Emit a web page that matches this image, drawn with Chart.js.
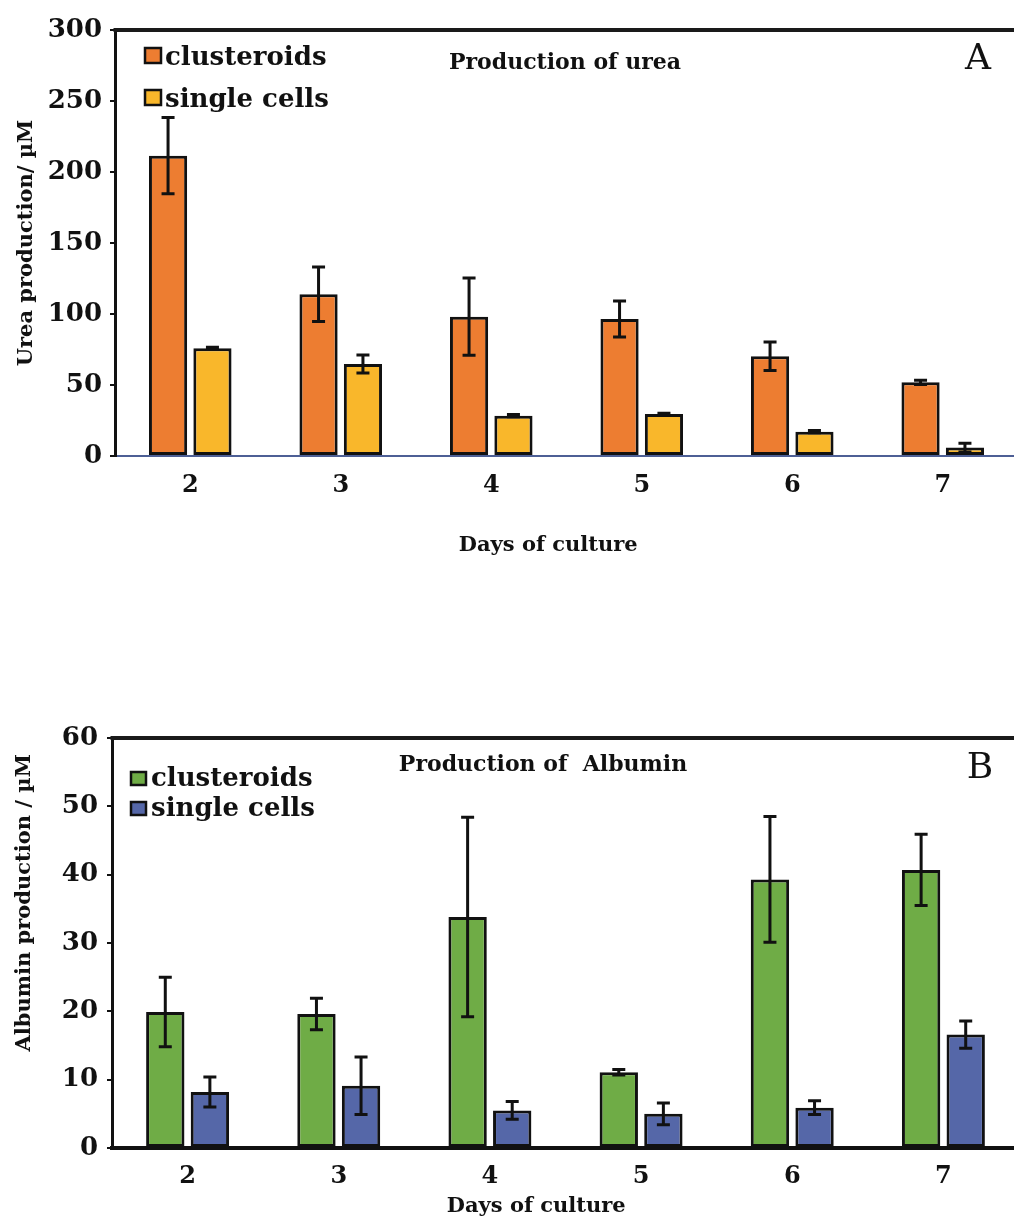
<!DOCTYPE html>
<html><head><meta charset="utf-8">
<script src="https://cdn.jsdelivr.net/npm/chart.js@4.4.1/dist/chart.umd.min.js"></script>
<style>
html,body{margin:0;padding:0;background:#fff;overflow:hidden;width:1014px;height:1221px;}
#wrap1{position:absolute;left:0;top:0;}
#wrap2{position:absolute;left:0;top:620px;}
</style></head><body>
<div id="wrap1"><canvas id="c1" width="1018" height="600"></canvas></div>
<div id="wrap2"><canvas id="c2" width="1019" height="601"></canvas></div>
<script>
// ---- data ----
const days = ['2', '3', '4', '5', '6', '7'];
const ureaClusteroids    = [211.5, 113.9, 98.1, 96.5, 70.2, 51.9];
const ureaClusteroidsErr = [26.8, 19.2, 27.2, 12.7, 10.0, 1.5];
const ureaSingle         = [75.8, 64.8, 28.4, 29.6, 17.1, 5.9];
const ureaSingleErr      = [0.8, 6.4, 0.8, 0.5, 0.8, 3.0];
const albClusteroids     = [19.9, 19.6, 33.8, 11.1, 39.3, 40.7];
const albClusteroidsErr  = [5.1, 2.3, 14.6, 0.4, 9.2, 5.2];
const albSingle          = [8.2, 9.1, 5.5, 5.0, 5.9, 16.6];
const albSingleErr       = [2.2, 4.2, 1.3, 1.6, 1.0, 2.0];
const ureaAxis = {max: 300, step: 50};
const albAxis  = {max: 60, step: 10};
const seriesNames = ['clusteroids', 'single cells'];

const FONT = "'DejaVu Serif', 'Liberation Serif', serif";

const errorBars = {
  id: 'errorBars',
  afterDatasetsDraw(chart) {
    const ctx = chart.ctx, y = chart.scales.y;
    chart.data.datasets.forEach((ds, di) => {
      if (!ds.errors) return;
      const meta = chart.getDatasetMeta(di);
      meta.data.forEach((bar, i) => {
        const v = ds.data[i], e = ds.errors[i];
        const yt = y.getPixelForValue(v + e);
        const yb = y.getPixelForValue(Math.max(0, v - e));
        const hw = 6.5;
        ctx.save();
        ctx.strokeStyle = '#111';
        ctx.lineWidth = 3;
        ctx.beginPath();
        ctx.moveTo(bar.x, yt); ctx.lineTo(bar.x, yb);
        ctx.moveTo(bar.x - hw, yt); ctx.lineTo(bar.x + hw, yt);
        ctx.moveTo(bar.x - hw, yb); ctx.lineTo(bar.x + hw, yb);
        ctx.stroke();
        ctx.restore();
      });
    });
  }
};

const decor = {
  id: 'decor',
  afterDraw(chart, args, o) {
    const ctx = chart.ctx, ca = chart.chartArea;
    ctx.save();
    // top frame line
    ctx.strokeStyle = '#1a1a1a';
    ctx.lineWidth = 4;
    ctx.beginPath();
    ctx.moveTo(ca.left - 1.5, ca.top);
    ctx.lineTo(chart.width, ca.top);
    ctx.stroke();
    // title
    ctx.fillStyle = '#111';
    ctx.textBaseline = 'alphabetic';
    ctx.textAlign = 'center';
    ctx.font = 'bold 22px ' + FONT;
    ctx.fillText(o.title, o.titleX, o.titleY);
    // panel letter
    ctx.font = '36px ' + FONT;
    ctx.fillText(o.letter, o.letterX, o.letterY);
    // legend
    ctx.textAlign = 'left';
    ctx.font = 'bold 26px ' + FONT;
    chart.data.datasets.forEach((ds, i) => {
      const by = o.legendY + i * o.legendGap;
      ctx.fillStyle = ds.backgroundColor;
      ctx.fillRect(o.legendX, by, o.boxW, o.boxH);
      ctx.strokeStyle = '#111';
      ctx.lineWidth = 2.5;
      ctx.strokeRect(o.legendX, by, o.boxW, o.boxH);
      ctx.fillStyle = '#111';
      ctx.fillText(ds.label, o.textX, by + o.boxH + o.textDy);
    });
    ctx.restore();
  }
};

function makeChart(id, c) {
  return new Chart(document.getElementById(id), {
    type: 'bar',
    data: {
      labels: days,
      datasets: [
        {label: seriesNames[0], data: c.a, errors: c.aErr, backgroundColor: c.colA,
         borderColor: '#111', borderWidth: 3, borderSkipped: false},
        {label: seriesNames[1], data: c.b, errors: c.bErr, backgroundColor: c.colB,
         borderColor: '#111', borderWidth: 3, borderSkipped: false}
      ]
    },
    options: {
      responsive: false,
      animation: false,
      devicePixelRatio: 1,
      layout: {padding: {top: c.padTop, left: 0, right: 0, bottom: 0}},
      datasets: {bar: {categoryPercentage: 0.59, barPercentage: 0.86}},
      plugins: {
        legend: {display: false},
        tooltip: {enabled: false},
        decor: c.decor
      },
      scales: {
        x: {
          grid: {display: false},
          border: {display: true, color: c.xAxisColor, width: c.xAxisWidth},
          ticks: {color: '#111', font: {family: FONT, size: 24, weight: 'bold'}, padding: c.xTickPad},
          title: {display: true, text: c.xTitle, color: '#111',
                  font: {family: FONT, size: 21, weight: 'bold'},
                  padding: {top: 0, bottom: c.xTitlePad}},
          afterFit(s) { s.height = c.xH; }
        },
        y: {
          min: 0, max: c.axis.max,
          ticks: {stepSize: c.axis.step, color: '#111', font: {family: FONT, size: 26, weight: 'bold'}, padding: c.yTickPad},
          grid: {drawOnChartArea: false, drawTicks: true, tickLength: 5, color: '#111', lineWidth: 2},
          border: {display: true, color: '#111', width: 3},
          title: {display: true, text: c.yTitle, color: '#111',
                  font: {family: FONT, size: 21, weight: 'bold'},
                  padding: {top: c.yTitlePad, bottom: 0}},
          afterFit(s) { s.width = c.yW; }
        }
      }
    },
    plugins: [errorBars, decor]
  });
}

makeChart('c1', {
  a: ureaClusteroids, aErr: ureaClusteroidsErr, b: ureaSingle, bErr: ureaSingleErr,
  colA: '#ED7D31', colB: '#F9B72B', axis: ureaAxis,
  padTop: 30, xH: 144, yW: 115, xTickPad: 7, xTitlePad: 42, yTickPad: 8, yTitlePad: 14,
  xAxisColor: '#4d5f95', xAxisWidth: 2,
  xTitle: 'Days of culture     ',
  yTitle: 'Urea production/ \u00B5M',
  decor: {title: 'Production of urea', titleX: 565, titleY: 69, letter: 'A', letterX: 978, letterY: 69,
          legendX: 145, legendY: 48, legendGap: 42, boxW: 16, boxH: 15, textX: 165, textDy: 2}
});

makeChart('c2', {
  a: albClusteroids, aErr: albClusteroidsErr, b: albSingle, bErr: albSingleErr,
  colA: '#6FAC46', colB: '#5567A8', axis: albAxis,
  padTop: 118, xH: 73, yW: 112, xTickPad: 6, xTitlePad: 2, yTitlePad: 12, yTickPad: 9,
  xAxisColor: '#111', xAxisWidth: 4,
  xTitle: 'Days of culture        ',
  yTitle: '           Albumin production / \u00B5M',
  decor: {title: 'Production of  Albumin', titleX: 543, titleY: 151, letter: 'B', letterX: 980, letterY: 158,
          legendX: 131, legendY: 152, legendGap: 30, boxW: 15, boxH: 13, textX: 151, textDy: 1}
});
</script>
</body></html>
